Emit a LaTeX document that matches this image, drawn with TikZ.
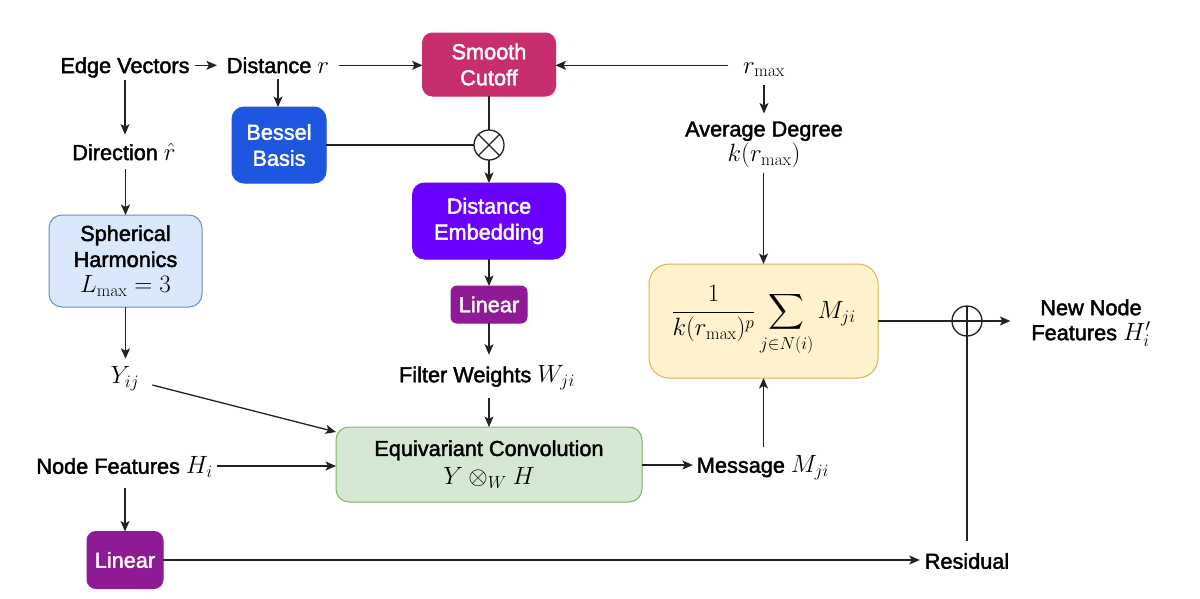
\documentclass[tikz,border=0pt]{standalone}
\usepackage{fix-cm}
\usepackage{amsmath}
\usepackage[no-math]{fontspec}
\setmainfont{Liberation Sans}[AutoFakeBold=2]
\DeclareMathSizes{21.7}{25}{17.5}{13}
\usetikzlibrary{arrows.meta,calc}
\definecolor{lc}{HTML}{222222}
\definecolor{cutoff}{HTML}{C72E6E}
\definecolor{bessel}{HTML}{1E56E0}
\definecolor{demb}{HTML}{6A00FF}
\definecolor{linc}{HTML}{8E1A96}
\definecolor{shfill}{HTML}{DAE8FC}
\definecolor{shdraw}{HTML}{6C8EBF}
\definecolor{cfill}{HTML}{D5E8D4}
\definecolor{cdraw}{HTML}{82B366}
\definecolor{sfill}{HTML}{FFF2CC}
\definecolor{sdraw}{HTML}{D6B656}
\begin{document}
\begin{tikzpicture}[x=1pt,y=-1pt,
  every node/.style={font=\fontsize{21.7}{26}\selectfont\bfseries, inner sep=0pt, outer sep=0pt},
  lbl/.style={text height=15.5pt, text depth=0pt},
  mlbl/.style={align=center, font=\fontsize{21.7}{25}\selectfont\bfseries},
  box/.style={draw, align=center, rounded corners=#1, line width=1pt},
  box/.default=10pt,
  wbox/.style={box=#1, text=white},
  wbox/.default=10pt,
  conn/.style={draw=lc, line width=1.3pt, -{Stealth[length=10.5pt,width=9pt,inset=2.5pt]}},
  plain/.style={draw=lc, line width=1.3pt},
  opc/.style={circle, draw=lc, line width=1.3pt, fill=white, minimum size=30pt}
]
\fill[white] (0,0) rectangle (1200,598);
\useasboundingbox (0,0) rectangle (1200,598);

% nodes
\node[lbl] (ev) at (125,65.3) {Edge Vectors};
\node[lbl] (dist) at (278,65.3) {Distance $r$};
\node[wbox=10pt, fill=cutoff, draw=cutoff, minimum width=133pt, minimum height=63pt] (sc) at (489,64.5) {Smooth\\Cutoff};
\node[lbl] (rmax) at (764,65.3) {$r_{\max}$};
\node[mlbl, anchor=north] (avg) at (764,121.5) {Average Degree\\$k(r_{\max})$};
\node[wbox=12pt, fill=bessel, draw=bessel, minimum width=94pt, minimum height=76pt] (bes) at (279,145) {Bessel\\Basis};
\node[opc] (ot) at (489,145) {};
\node[lbl] (dir) at (124,152.3) {Direction $\hat{r}$};
\node[box=13pt, fill=shfill, draw=shdraw, minimum width=153pt, minimum height=92pt] (sh) at (125.5,261) {Spherical\\Harmonics\\$L_{\max}=3$};
\node[wbox=12pt, fill=demb, draw=demb, minimum width=153pt, minimum height=76pt] (de) at (489,221) {Distance\\Embedding};
\node[wbox=6pt, fill=linc, draw=linc, minimum width=76pt, minimum height=37pt] (lin2) at (489,304.5) {Linear};
\node[lbl] (yij) at (125,375.5) {$Y_{ij}$};
\node[lbl] (fw) at (487,374.5) {Filter Weights $W_{ji}$};
\node[box=13pt, fill=cfill, draw=cdraw, minimum width=306pt, minimum height=75pt] (conv) at (489,464.5) {Equivariant Convolution\\[3pt]$Y\otimes_W H$};
\node[lbl] (nf) at (124.5,466) {Node Features $H_i$};
\node[lbl] (msg) at (763,465) {Message $M_{ji}$};
\node[wbox=9pt, fill=linc, draw=linc, minimum width=76pt, minimum height=57pt] (lin1) at (125,560) {Linear};
\node[lbl] (res) at (967,561) {Residual};
\node[box=20pt, fill=sfill, draw=sdraw, minimum width=229pt, minimum height=114pt] (sum) at (763.5,321) {$\displaystyle \frac{1}{k(r_{\max})^{p}}\sum_{j\in N(i)} M_{ji}$};
\node[opc] (op) at (967,321) {};
\node[mlbl] (new) at (1091,323) {New Node\\Features $H_i'$};

% connectors
\draw[conn, shorten <=5pt, shorten >=10pt] (ev.east) -- (dist.west);
\draw[conn, shorten <=10pt] (dist.east) -- (dist.east -| sc.west);
\draw[conn, shorten <=15pt] (rmax.west) -- (rmax.west -| sc.east);
\draw[conn, shorten <=12pt, shorten >=8pt] (rmax.south) -- (avg.north);
\draw[conn, shorten <=6pt] (dist.south) -- (dist.south |- bes.north);
\draw[conn, shorten <=7pt, shorten >=10pt] (ev.south) -- (ev.south |- dir.north);
\draw[plain] (bes.east) -- (ot.west);
\draw[plain] (sc.south) -- (ot.north);
\draw[plain] (ot.north west) -- (ot.south east);
\draw[plain] (ot.north east) -- (ot.south west);
\draw[conn] (ot.south) -- (de.north);
\draw[conn, shorten <=9pt] (sh.north |- dir.south) -- (sh.north);
\draw[conn, shorten >=9pt] (sh.south) -- (sh.south |- yij.north);
\draw[conn] (de.south) -- (lin2.north);
\draw[conn, shorten >=12pt] (lin2.south) -- (lin2.south |- fw.north);
\draw[conn, shorten <=16pt] (fw.south -| conv.north) -- (conv.north);
\coordinate (yst) at ($(yij.east)+(13,9.5)$);
\coordinate (yend) at ($(conv.north west)+(0,5)$);
\draw[conn] (yst) -- (yend);
\draw[conn, shorten <=4pt] (nf.east) -- (nf.east -| conv.west);
\draw[conn, shorten <=14pt] (nf.south -| lin1.north) -- (lin1.north);
\draw[conn, shorten >=4pt] (conv.east |- msg.west) -- (msg.west);
\draw[conn, shorten <=10pt] (msg.north -| sum.south) -- (sum.south);
\draw[conn, shorten <=5pt] (avg.south -| sum.north) -- (sum.north);
\draw[plain] (sum.east) -- (op.west);
\draw[plain] (op.west) -- (op.east);
\draw[plain] (op.north) -- (op.south);
\draw[conn, shorten >=21pt] (op.east) -- (op.east -| new.west);
\draw[conn, shorten >=5pt] (lin1.east) -- (lin1.east -| res.west);
\draw[plain, shorten <=12pt] (res.north) -- (op.south);
\end{tikzpicture}
\end{document}
